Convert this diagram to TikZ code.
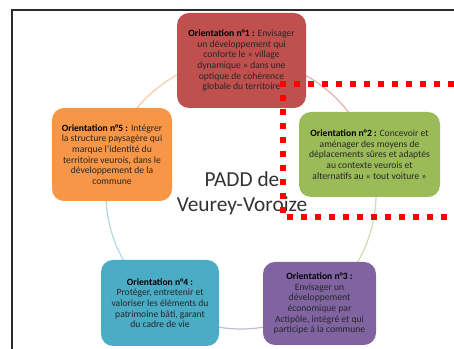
\documentclass[tikz,border=0pt]{standalone}
\usepackage{fontspec}
\setmainfont{Carlito}
\definecolor{padred}{HTML}{C0504D}
\definecolor{padgreen}{HTML}{9BBB59}
\definecolor{padpurple}{HTML}{8064A2}
\definecolor{padblue}{HTML}{4BACC6}
\definecolor{padorange}{HTML}{F79646}
\definecolor{padtext}{HTML}{262626}
\definecolor{padtitle}{HTML}{333333}
\definecolor{padframe}{HTML}{2B2B2B}
\definecolor{padhl}{HTML}{FF0000}
\usetikzlibrary{positioning,calc}

\begin{document}
\begin{tikzpicture}[x=0.75pt,y=0.75pt,
  orient/.style={rounded corners=9pt, inner sep=0pt, align=center,
                 font=\fontsize{7.2}{8}\selectfont\color{padtext}},
  ring/.style={line width=0.9pt},
  hilite/.style={draw=padhl, line width=4.5pt, dash pattern=on 4.5pt off 6pt}
]
  \useasboundingbox (0,0) rectangle (454,349);
  \draw[padframe, line width=1.2pt] (12,0) -- (12,339) -- (454,339);

  \coordinate (c) at (241,155);
  \draw[ring, padred!45]    ($(c)+(90:135)$)   arc[start angle=90,   end angle=18,   radius=135];
  \draw[ring, padgreen!50]  ($(c)+(18:135)$)   arc[start angle=18,   end angle=-54,  radius=135];
  \draw[ring, padpurple!45] ($(c)+(-54:135)$)  arc[start angle=-54,  end angle=-126, radius=135];
  \draw[ring, padblue!45]   ($(c)+(-126:135)$) arc[start angle=-126, end angle=-198, radius=135];
  \draw[ring, padorange!50] ($(c)+(162:135)$)  arc[start angle=162,  end angle=90,   radius=135];

  \node[orient, fill=padred, minimum width=96.75pt, minimum height=71.25pt] (o1) at (241.5,288.5)
    {\textbf{\color{black}Orientation n°1 :} Envisager\\un développement qui\\conforte le « village\\dynamique » dans une\\optique de cohérence\\globale du territoire};
  \node[orient, fill=padgreen, minimum width=105.75pt, minimum height=63.75pt] (o2) at (369.5,194.5)
    {\textbf{\color{black}Orientation n°2 :} Concevoir et\\aménager des moyens de\\déplacements sûres et adaptés\\au contexte veurois et\\alternatifs au « tout voiture »};
  \node[orient, fill=padpurple, minimum width=84.75pt, minimum height=62.25pt] (o3) at (319.5,45.5)
    {\textbf{\color{black}Orientation n°3 :}\\Envisager un\\développement\\économique par\\Actipôle, intégré et qui\\participe à la commune};
  \node[orient, fill=padblue, minimum width=88.5pt, minimum height=64.5pt] (o4) at (160,46)
    {\textbf{\color{black}Orientation n°4 :}\\Protéger, entretenir et\\valoriser les éléments du\\patrimoine bâti, garant\\du cadre de vie};
  \node[orient, fill=padorange, minimum width=90pt, minimum height=69.75pt] (o5) at (112,194.5)
    {\textbf{\color{black}Orientation n°5 :} Intégrer\\la structure paysagère qui\\marque l'identité du\\territoire veurois, dans le\\développement de la\\commune};

  \node[align=center, font=\fontsize{16}{18.75}\selectfont\color{padtitle}] (padd) at (242,156)
    {PADD de\\Veurey-Voroize};

  \coordinate (hl-ne) at (454,265);
  \coordinate (hl-nw) at (283,265);
  \coordinate (hl-sw) at (283,132);
  \coordinate (hl-se) at (454,132);
  \draw[hilite] (hl-ne) -- (hl-nw) -- (hl-sw) -- (hl-se);
\end{tikzpicture}
\end{document}
